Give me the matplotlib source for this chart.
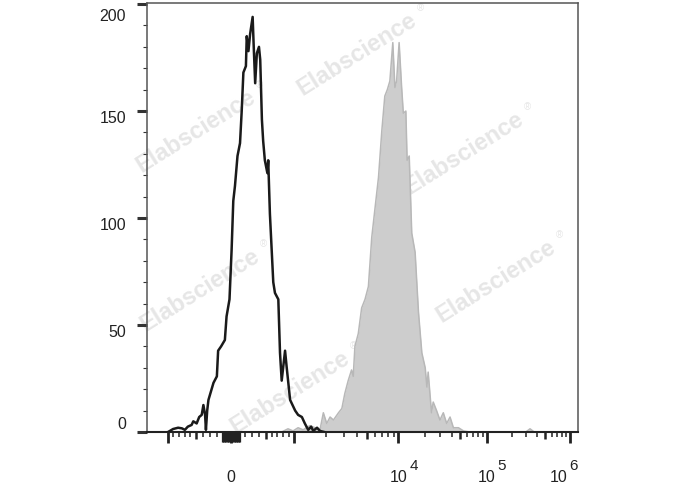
import numpy as np
import matplotlib
matplotlib.use('Agg')
import matplotlib.pyplot as plt
from matplotlib.transforms import offset_copy, ScaledTranslation

# histograma sin marcar (linea negra): canal (0-1024) y numero de eventos
negro_canal = [50, 62, 74, 83, 90, 97, 106, 110, 118, 124,
               130, 134, 138, 140, 143, 146, 152, 158, 166, 169,
               176, 185, 189, 196, 201, 205, 209, 215, 221, 225,
               229, 235, 237, 241, 245, 251, 253, 257, 261, 266,
               269, 273, 276, 280, 286, 288, 292, 300, 304, 312,
               316, 320, 328, 332, 340, 352, 359, 368, 375, 383,
               390, 395, 404, 411, 421]
negro_cuentas = [0, 1.4, 2, 1.7, 1, 2.5, 3.3, 5, 4, 7,
                 8, 12.6, 8, 1, 10, 15, 19, 23, 26, 38,
                 40, 43, 54, 62, 85, 108, 115, 129, 135, 150,
                 168, 171, 185, 178, 186, 194, 183, 163, 177, 180,
                 174, 146, 136, 127, 121, 127, 102, 70, 65, 62,
                 37, 24, 38, 30, 15, 10, 8, 7, 4, 1,
                 2.5, 0.5, 2, 0.5, 0]

# histograma marcado (relleno gris)
gris_canal = [0, 320, 335, 347, 359, 371, 387, 399, 411, 419,
              427, 435, 443, 455, 463, 470, 478, 486, 490, 494,
              502, 510, 518, 526, 534, 542, 550, 558, 565, 571,
              577, 584, 589, 593, 599, 605, 609, 615, 618, 623,
              629, 637, 645, 653, 661, 665, 668, 676, 680, 688,
              696, 704, 712, 720, 728, 740, 752, 767, 900, 910,
              920, 1024]
gris_cuentas = [0, 0, 1.5, 0.5, 2, 1, 3, 2, 1, 9,
                4, 7, 5.6, 9, 11, 18, 24, 29, 26, 40,
                46, 58, 62, 68, 91, 105, 119, 141, 157, 160,
                164, 182, 161, 164, 182, 161, 149, 150, 127, 129,
                93, 84, 56, 37, 30, 21, 28, 9, 14, 10,
                5.6, 9, 4, 7, 2, 2, 0.5, 0, 0, 1.5,
                0, 0]

# ticks del eje x (valores de fluorescencia)
mayores = [-1000, 0, 1000, 1e4, 1e5, 1e6]
medios = [-500, 500, 5e3, 5e4, 5e5]
cerca_cero = [s * k for s in (-1, 1) for k in range(10, 131, 10) if k != 100] + [-100, 100]
menores = ([s * k for s in (-1, 1) for k in (200, 300, 400, 600, 700, 800, 900)] +
           [k * 10.0 ** n for n in (3, 4, 5) for k in (2, 3, 4, 6, 7, 8, 9)])
etiquetas_x = [(0, '0', ''), (1e4, '10', '4'), (1e5, '10', '5'), (1e6, '10', '6')]


def canal(v):
    # escala biexponencial aproximada: valor -> canal (0-1024)
    v = np.asarray(v, dtype=float)
    a = np.abs(v)
    lin = np.interp(a, [0, 500, 1000], [0, 35, 63.3])
    lg = np.interp(np.log10(np.maximum(a, 1000)), [3, 4, 5, 6, 7],
                   [63.3, 167.3, 255.7, 339, 422.3])
    off = np.where(a <= 1000, lin, lg)
    return (84 + np.sign(v) * off) * 1024 / 431


plt.rcParams['font.family'] = ['Liberation Sans', 'DejaVu Sans']
fig = plt.figure(figsize=(6.88, 4.9), dpi=100)
ax = fig.add_axes([147 / 688, 58 / 490, 431 / 688, 429 / 490])

# marcas de agua
def marca(xp, yp):
    ax.text(xp / 688, 1 - yp / 490, 'Elabscience', transform=fig.transFigure,
            rotation=32, ha='center', va='center', fontsize=17, fontweight='bold',
            color='#e6e6e6', zorder=1, clip_on=False)
    tr = offset_copy(fig.transFigure, fig=fig, x=46, y=33, units='points')
    ax.text(xp / 688, 1 - yp / 490, '®', transform=tr, ha='center', va='center',
            fontsize=7, color='#e6e6e6', zorder=1, clip_on=False)


for xp, yp in [(357, 54), (196, 131), (464, 153), (496, 281), (200, 290), (290, 392)]:
    marca(xp, yp)

ax.fill_between(gris_canal, gris_cuentas, color='#cdcdcd', lw=0, zorder=2)
ax.plot(gris_canal, gris_cuentas, color='#b8b8b8', lw=1.1, zorder=2.5)
ax.plot(negro_canal, negro_cuentas, color='#1a1a1a', lw=1.8, zorder=3)

ax.set_xlim(0, 1024)
ax.set_ylim(0, 200.5)

# eje y
ax.set_yticks(range(0, 201, 50))
ax.set_yticks(range(0, 201, 10), minor=True)
ax.tick_params(axis='y', which='major', length=7.2, width=2.2, color='#333333',
               pad=8, labelsize=11.5, labelcolor='#222222')
ax.tick_params(axis='y', which='minor', length=3.2, width=0.8, color='#333333')
for t, v in zip(ax.yaxis.get_major_ticks(), range(0, 201, 50)):
    t.label1.set_va('bottom' if v == 0 else 'top')
    if v == 200:
        t.label1.set_transform(t.label1.get_transform() +
                               ScaledTranslation(0, -0.05, fig.dpi_scale_trans))

# eje x
todos = sorted([(v, 8, 2.0) for v in mayores] + [(v, 5, 1.8) for v in medios] +
               [(v, 7.5, 0.9) for v in cerca_cero])
ax.set_xticks(canal([v for v, _, _ in todos]))
ax.set_xticks(canal(menores), minor=True)
ax.tick_params(axis='x', which='both', labelbottom=False, color='#222222')
ax.tick_params(axis='x', which='minor', length=3.6, width=1.1)
for t, (v, largo, ancho) in zip(ax.xaxis.get_major_ticks(), todos):
    t.tick1line.set_markersize(largo)
    t.tick1line.set_markeredgewidth(ancho)

for v, base, expo in etiquetas_x:
    x = canal(v) - (28 if v == 1e6 else 0)
    ax.text(x, -0.107, base, transform=ax.get_xaxis_transform(), ha='center',
            va='center', fontsize=11.5, color='#222222')
    if expo:
        ax.text(x + 36, -0.079, expo, transform=ax.get_xaxis_transform(),
                ha='center', va='center', fontsize=11, color='#222222')

for lado in ['left', 'top', 'right']:
    ax.spines[lado].set_color('#555555')
    ax.spines[lado].set_linewidth(1.1)
ax.spines['bottom'].set_color('#222222')
ax.spines['bottom'].set_linewidth(1.5)

plt.savefig('out.png', dpi=100)
